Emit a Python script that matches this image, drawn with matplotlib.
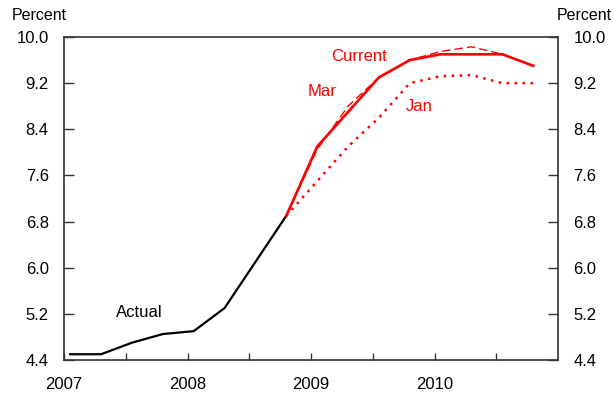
import matplotlib

matplotlib.use("Agg")
import matplotlib.pyplot as plt
import numpy as np

plt.rcParams["font.family"] = ["Liberation Sans", "DejaVu Sans"]

# quarterly observations, plotted from early 2007
actual_x = [2007.05, 2007.30, 2007.55, 2007.80, 2008.05, 2008.30, 2008.55, 2008.80]
actual = [4.5, 4.5, 4.7, 4.85, 4.9, 5.3, 6.1, 6.9]

proj_x = [2008.80, 2009.05, 2009.30, 2009.55, 2009.80, 2010.05, 2010.30, 2010.55, 2010.80]
current = [6.9, 8.1, 8.7, 9.3, 9.6, 9.7, 9.7, 9.7, 9.5]
mar = [6.9, 8.05, 8.8, 9.3, 9.6, 9.75, 9.83, 9.7]
jan = [6.9, 7.5, 8.1, 8.6, 9.2, 9.32, 9.34, 9.2, 9.2]

year_labels = ["2007", "2008", "2009", "2010"]
y_ticks = [4.4, 5.2, 6.0, 6.8, 7.6, 8.4, 9.2, 10.0]

red = "#ff0000"

fig = plt.figure(figsize=(6.14, 3.97), dpi=100)
ax = fig.add_axes([64 / 614, 37 / 397, 494 / 614, 323 / 397])

ax.plot(actual_x, actual, color="black", lw=1.6)
ax.plot(proj_x, current, color=red, lw=1.9)
ax.plot(proj_x[:len(mar)], mar, color=red, lw=1.0, ls=(0, (6, 3)))
ax.plot(proj_x, jan, color=red, lw=1.8, ls=(0, (1, 2.2)))

ax.text(2009.39, 9.67, "Current", color=red, fontsize=12, ha="center", va="center")
ax.text(2009.09, 9.06, "Mar", color=red, fontsize=12, ha="center", va="center")
ax.text(2009.88, 8.8, "Jan", color=red, fontsize=12, ha="center", va="center")
ax.text(2007.61, 5.23, "Actual", color="black", fontsize=12, ha="center", va="center")

ax.set_xlim(2007, 2011)
ax.set_ylim(4.4, 10.0)
xt = np.arange(2007, 2011, 0.5)
ax.set_xticks(xt)
ax.set_xticklabels([year_labels[i // 2] if i % 2 == 0 else "" for i in range(len(xt))])
ax.set_yticks(y_ticks)
ax.set_yticklabels([f"{v:.1f}" for v in y_ticks])

ax.tick_params(axis="both", direction="in", labelsize=12, color="#333333", width=1.0)
ax.tick_params(axis="y", length=7, pad=11, right=True, labelright=True)
ax.tick_params(axis="x", length=5, pad=12)
for s in ax.spines.values():
    s.set_linewidth(1.2)
    s.set_color("#333333")

fig.text(12 / 614, 1 - 15 / 397, "Percent", fontsize=11.5, ha="left", va="center")
fig.text(612 / 614, 1 - 15 / 397, "Percent", fontsize=11.5, ha="right", va="center")

fig.savefig("out.png", dpi=100)
